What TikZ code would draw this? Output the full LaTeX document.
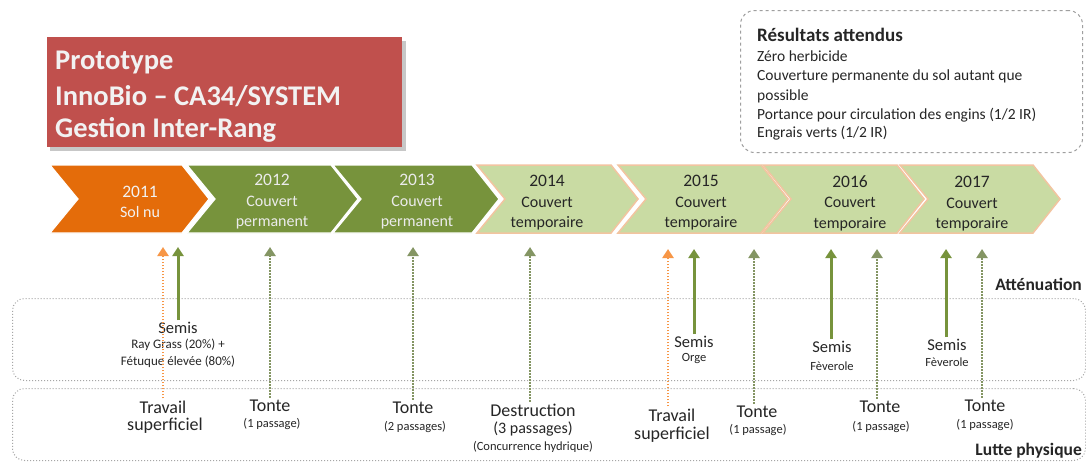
\documentclass[tikz,border=0pt]{standalone}
\usepackage{fontspec}
\setmainfont{Carlito}
\usetikzlibrary{arrows.meta}
\definecolor{orangeC}{HTML}{E46C0A}
\definecolor{greenD}{HTML}{77933C}
\definecolor{greenL}{HTML}{C9DBA3}
\definecolor{borderL}{HTML}{F2C4A0}
\definecolor{redT}{HTML}{C0504D}
\definecolor{arrOr}{HTML}{F79646}
\definecolor{txtD}{HTML}{262626}
\definecolor{dotG}{HTML}{849563}
\newcommand{\chevshape}[4]{%
  \draw[#4, fill=#3, line join=miter] (#1,165) -- (#2,165) -- ({#2+27},199) -- (#2,233) -- (#1,233) -- ({#1+28},199) -- cycle;}
\begin{document}
\begin{tikzpicture}[x=1pt,y=-1pt,
  titletxt/.style={anchor=west, inner sep=0pt, text=white!95!black, font=\fontsize{28.5}{32}\selectfont\bfseries},
  restxt/.style={anchor=west, inner sep=0pt, text=txtD, font=\fontsize{15.5}{18}\selectfont},
  chevtxt/.style={align=center, inner sep=0pt, font=\fontsize{16}{20.5}\selectfont},
  yeartxt/.style={font=\fontsize{17.5}{20}\selectfont},
  lbig/.style={inner sep=2pt, text=txtD, align=center, font=\fontsize{18}{20}\selectfont},
  lsmall/.style={inner sep=1pt, text=txtD, align=center, font=\fontsize{12.5}{17}\selectfont},
  boxst/.style={draw=gray!70, dotted, line width=1pt, rounded corners=12pt, fill=white},
  sidelbl/.style={anchor=east, inner sep=0pt, text=txtD, font=\fontsize{17.5}{20}\selectfont\bfseries},
  solidarr/.style={draw=greenD, line width=3pt, -{Triangle[width=11pt,length=9pt]}},
  dotarr/.style={draw=dotG, line width=2.8pt, dash pattern=on 1.6pt off 1.4pt, -{Triangle[width=11pt,length=9pt]}},
  orarr/.style={draw=arrOr, line width=2.8pt, dash pattern=on 1.6pt off 1.4pt, -{Triangle[width=11pt,length=9pt]}}
]
\useasboundingbox (0,0) rectangle (1086,461);
\fill[white] (0,0) rectangle (1086,461);

% title
\fill[black!22] (50,41) rectangle (406,151);
\node[fill=redT, minimum width=355pt, minimum height=110pt, anchor=north west, inner sep=0pt] (title) at (47,37) {};
\node[titletxt] (ttl1) at (55,62) {Prototype};
\node[titletxt] (ttl2) at (55,96) {InnoBio – CA34/SYSTEM};
\node[titletxt] (ttl3) at (55,130) {Gestion Inter-Rang};

% expected results
\node[draw=gray!75, dashed, line width=1pt, rounded corners=14pt, minimum width=342pt, minimum height=142pt, anchor=north west, inner sep=0pt] (res) at (740,10) {};
\node[restxt, font=\fontsize{19}{22}\selectfont\bfseries] (r0) at (757,35) {Résultats attendus};
\node[restxt] (r1) at (757,56) {Zéro herbicide};
\node[restxt] (r2) at (757,76) {Couverture permanente du sol autant que};
\node[restxt] (r3) at (757,96) {possible};
\node[restxt] (r4) at (757,115) {Portance pour circulation des engins (1/2 IR)};
\node[restxt] (r5) at (757,133) {Engrais verts (1/2 IR)};

% chevrons
\chevshape{50}{182}{orangeC}{draw=white, line width=1.2pt}
\chevshape{187}{331}{greenD}{draw=white, line width=1.2pt}
\chevshape{333}{472}{greenD}{draw=white, line width=1.2pt}
\chevshape{477}{611}{greenL}{draw=borderL, line width=1.5pt}
\chevshape{618}{761}{greenL}{draw=borderL, line width=1.5pt}
\chevshape{763}{897}{greenL}{draw=borderL, line width=1.5pt}
\chevshape{900}{1033}{greenL}{draw=borderL, line width=1.5pt}

\node[chevtxt, text=white!95!black] (y2011) at (140,202) {{\fontsize{17.5}{20}\selectfont 2011}\\Sol nu};
\node[chevtxt, text=white!92!black] (y2012) at (272,202) {{\fontsize{17.5}{20}\selectfont 2012}\\Couvert\\permanent};
\node[chevtxt, text=white!92!black] (y2013) at (417,202) {{\fontsize{17.5}{20}\selectfont 2013}\\Couvert\\permanent};
\node[chevtxt, text=txtD] (y2014) at (547,203) {{\fontsize{17.5}{20}\selectfont 2014}\\Couvert\\temporaire};
\node[chevtxt, text=txtD] (y2015) at (701,203) {{\fontsize{17.5}{20}\selectfont 2015}\\Couvert\\temporaire};
\node[chevtxt, text=txtD] (y2016) at (850,203) {{\fontsize{17.5}{20}\selectfont 2016}\\Couvert\\temporaire};
\node[chevtxt, text=txtD] (y2017) at (972,204) {{\fontsize{17.5}{20}\selectfont 2017}\\Couvert\\temporaire};

% bands
\node[boxst, minimum width=1073pt, minimum height=82pt, anchor=north west, inner sep=0pt] (att) at (12,298) {};
\node[boxst, minimum width=1073pt, minimum height=72pt, anchor=north west, inner sep=0pt] (lut) at (12,388) {};
\node[sidelbl] (attl) at (1082,284) {Atténuation};
\node[sidelbl] (lutl) at (1082,451) {Lutte physique};

% labels in Atténuation band
\node[lbig, font=\fontsize{16.5}{19}\selectfont] (semis1) at (178,328) {Semis};
\node[lsmall, font=\fontsize{13}{17}\selectfont] (rg) at (178,345) {Ray Grass (20\%) +};
\node[lsmall, font=\fontsize{13}{17}\selectfont] (fe) at (178,362) {Fétuque élevée (80\%)};
\node[lbig, font=\fontsize{16.5}{19}\selectfont] (semis2) at (694,342) {Semis};
\node[lsmall] (orge) at (694,359) {Orge};
\node[lbig, font=\fontsize{16.5}{19}\selectfont] (semis3) at (832,347) {Semis};
\node[lsmall] (fev1) at (832,366) {Fèverole};
\node[lbig, font=\fontsize{16.5}{19}\selectfont] (semis4) at (947,345) {Semis};
\node[lsmall] (fev2) at (947,362) {Fèverole};

% labels in Lutte band
\node[lbig] (trav1) at (163,407) {Travail};
\node[lbig] (sup1) at (165,426) {superficiel};
\node[lbig] (tonte1) at (270,406) {Tonte};
\node[lsmall] (p1) at (272,424) {(1 passage)};
\node[lbig] (tonte2) at (413,408) {Tonte};
\node[lsmall] (p2) at (415,427) {(2 passages)};
\node[lbig] (destr) at (533,410) {Destruction};
\node[lbig, font=\fontsize{16}{18}\selectfont] (p3) at (533,429) {(3 passages)};
\node[lsmall] (conc) at (533,447) {(Concurrence hydrique)};
\node[lbig] (trav2) at (672,415) {Travail};
\node[lbig] (sup2) at (672,435) {superficiel};
\node[lbig] (tonte3) at (757,412) {Tonte};
\node[lsmall] (p4) at (758,430) {(1 passage)};
\node[lbig] (tonte4) at (880,407) {Tonte};
\node[lsmall] (p5) at (881,427) {(1 passage)};
\node[lbig] (tonte5) at (985,406) {Tonte};
\node[lsmall] (p6) at (985,425) {(1 passage)};

% arrow tops
\coordinate (a1) at (163,247);
\coordinate (a2) at (178,247);
\coordinate (a3) at (270,247);
\coordinate (a4) at (413,247);
\coordinate (a5) at (530,247);
\coordinate (a6) at (668,249);
\coordinate (a7) at (694,249);
\coordinate (a8) at (754,249);
\coordinate (a9) at (831,249);
\coordinate (a10) at (877,249);
\coordinate (a11) at (946,249);
\coordinate (a12) at (982,249);

\draw[orarr] (trav1.north -| a1) -- (a1);
\draw[solidarr] (semis1.north -| a2) -- (a2);
\draw[dotarr] (tonte1.north -| a3) -- (a3);
\draw[dotarr] (tonte2.north -| a4) -- (a4);
\draw[dotarr] (destr.north -| a5) -- (a5);
\draw[orarr] (trav2.north -| a6) -- (a6);
\draw[solidarr] (semis2.north -| a7) -- (a7);
\draw[dotarr] (tonte3.north -| a8) -- (a8);
\draw[solidarr] (semis3.north -| a9) -- (a9);
\draw[dotarr] (tonte4.north -| a10) -- (a10);
\draw[solidarr] (semis4.north -| a11) -- (a11);
\draw[dotarr] (tonte5.north -| a12) -- (a12);
\end{tikzpicture}
\end{document}
